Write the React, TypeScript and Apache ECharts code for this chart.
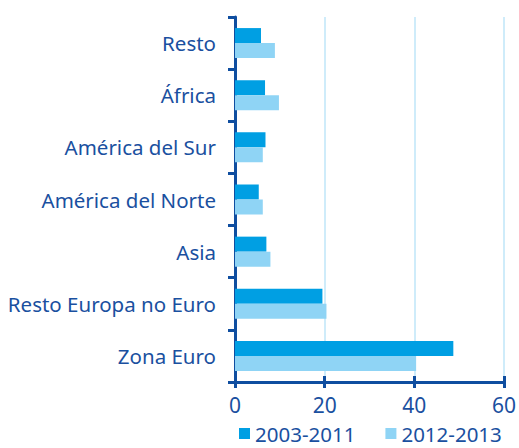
import React, { useEffect, useRef } from "react";
import * as echarts from "echarts";

const categories = [
  "Resto",
  "África",
  "América del Sur",
  "América del Norte",
  "Asia",
  "Resto Europa no Euro",
  "Zona Euro",
];
const seriesNames = ["2003-2011", "2012-2013"];
const values2003 = [5.8, 6.7, 6.8, 5.3, 7.0, 19.5, 48.7];
const values2012 = [8.9, 9.8, 6.2, 6.2, 7.9, 20.4, 40.4];

const AXIS = "#0f4ea0";
const TEXT = "#1a50a0";
const DARK = "#009fe3";
const LIGHT = "#8fd4f5";
const FONT = "Noto Sans";

export default function App() {
  const ref = useRef<HTMLDivElement>(null);
  useEffect(() => {
    if (!ref.current) return;
    const chart = echarts.init(ref.current, undefined, { renderer: "svg" });
    const xBase = {
      type: "value" as const,
      min: 0,
      max: 60,
      interval: 20,
      position: "bottom" as const,
    };
    chart.setOption({
      animation: false,
      backgroundColor: "#ffffff",
      grid: { left: 235, right: 14, top: 17, bottom: 66, containLabel: false },
      legend: {
        top: 423,
        left: 239,
        padding: 0,
        itemWidth: 11,
        itemHeight: 11,
        itemGap: 30,
        icon: "rect",
        data: seriesNames,
        textStyle: { color: TEXT, fontSize: 20.5, lineHeight: 21, fontFamily: FONT },
      },
      xAxis: [
        {
          ...xBase,
          axisLine: { show: true, lineStyle: { color: AXIS, width: 3 } },
          axisTick: { show: true, length: 6, lineStyle: { color: AXIS, width: 3 } },
          axisLabel: { color: TEXT, fontSize: 21, fontFamily: FONT, margin: 12 },
          splitLine: { show: true, lineStyle: { color: "#bfe6f8", width: 1.5 } },
        },
        {
          ...xBase,
          axisLine: { show: false },
          axisTick: { show: true, inside: true, length: 6, lineStyle: { color: AXIS, width: 3 } },
          axisLabel: { show: false },
          splitLine: { show: false },
        },
      ],
      yAxis: {
        type: "category",
        data: categories,
        inverse: true,
        axisLine: { show: true, lineStyle: { color: AXIS, width: 3 } },
        axisTick: { show: true, length: 7, lineStyle: { color: AXIS, width: 3 } },
        axisLabel: { color: TEXT, fontSize: 20.5, fontFamily: FONT, margin: 19 },
        splitLine: { show: false },
      },
      series: [
        {
          name: seriesNames[0],
          type: "bar",
          xAxisIndex: 0,
          data: values2003,
          barWidth: 15,
          barGap: "0%",
          itemStyle: { color: DARK },
        },
        {
          name: seriesNames[1],
          type: "bar",
          xAxisIndex: 0,
          data: values2012,
          barWidth: 15,
          barGap: "0%",
          itemStyle: { color: LIGHT },
        },
      ],
    });
    return () => chart.dispose();
  }, []);
  return (
    <div
      ref={ref}
      style={{ position: "fixed", left: 0, top: 0, width: 519, height: 448 }}
    />
  );
}
